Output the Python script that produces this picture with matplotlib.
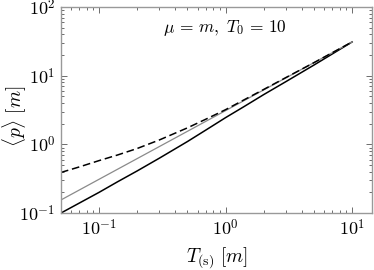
import matplotlib
matplotlib.use("Agg")
import matplotlib.pyplot as plt
from matplotlib.ticker import FixedLocator, FixedFormatter, LogLocator, NullFormatter

plt.rcParams['mathtext.fontset'] = 'cm'
plt.rcParams['font.family'] = 'serif'

# values
T = [0.05, 0.07, 0.1, 0.14, 0.2, 0.3, 0.5, 0.7, 1.0, 1.4, 2.0, 3.0, 5.0, 10.0]
p_solid = [0.10, 0.14, 0.20, 0.285, 0.41, 0.63, 1.10, 1.62, 2.45, 3.55, 5.3, 8.2, 14.3, 31.0]
p_gray = [0.155, 0.217, 0.31, 0.434, 0.62, 0.93, 1.55, 2.17, 3.1, 4.34, 6.2, 9.3, 15.5, 31.0]
p_dashed = [0.39, 0.47, 0.58, 0.70, 0.87, 1.16, 1.74, 2.33, 3.2, 4.45, 6.3, 9.4, 15.5, 31.0]

xticks = [0.1, 1, 10]
xticklabels = [r'$10^{-1}$', r'$10^{0}$', r'$10^{1}$']
yticks = [0.1, 1, 10, 100]
yticklabels = [r'$10^{-1}$', r'$10^{0}$', r'$10^{1}$', r'$10^{2}$']

fig = plt.figure(figsize=(3.74, 2.70), dpi=100)
ax = fig.add_axes([0.163, 0.211, 0.832, 0.763])

ax.plot(T, p_solid, color='black', lw=1.1)
ax.plot(T, p_gray, color='#8a8a8a', lw=0.9)
ax.plot(T, p_dashed, color='black', lw=1.1, ls=(0, (5, 2.5)))

ax.set_xscale('log')
ax.set_yscale('log')
ax.set_xlim(0.05, 14.4)
ax.set_ylim(0.1, 100)

ax.xaxis.set_major_locator(FixedLocator(xticks))
ax.xaxis.set_major_formatter(FixedFormatter(xticklabels))
ax.yaxis.set_major_locator(FixedLocator(yticks))
ax.yaxis.set_major_formatter(FixedFormatter(yticklabels))
ax.xaxis.set_minor_locator(LogLocator(base=10, subs=range(2, 10)))
ax.yaxis.set_minor_locator(LogLocator(base=10, subs=range(2, 10)))
ax.xaxis.set_minor_formatter(NullFormatter())
ax.yaxis.set_minor_formatter(NullFormatter())

ax.tick_params(which='both', direction='in', top=True, right=True,
               color='#555555', labelsize=13, width=0.6)
ax.tick_params(which='major', length=4, pad=4)
ax.tick_params(which='minor', length=2)
for s in ax.spines.values():
    s.set_color('#999999')
    s.set_linewidth(1.0)

ax.set_xlabel(r'$T_{(\mathrm{s})}\ [m]$', fontsize=14)
ax.set_ylabel(r'$\langle p\rangle\ [m]$', fontsize=14)
ax.xaxis.set_label_coords(0.5, -0.215)
ax.yaxis.set_label_coords(-0.148, 0.47)
ax.xaxis.label.set_va('center')
ax.yaxis.label.set_va('center')
ax.text(0.527, 0.9, r'$\mu\,=\,m,\ T_0\,=\,10$', transform=ax.transAxes,
        ha='center', va='center', fontsize=12.5)

fig.savefig('out.png', dpi=100)
